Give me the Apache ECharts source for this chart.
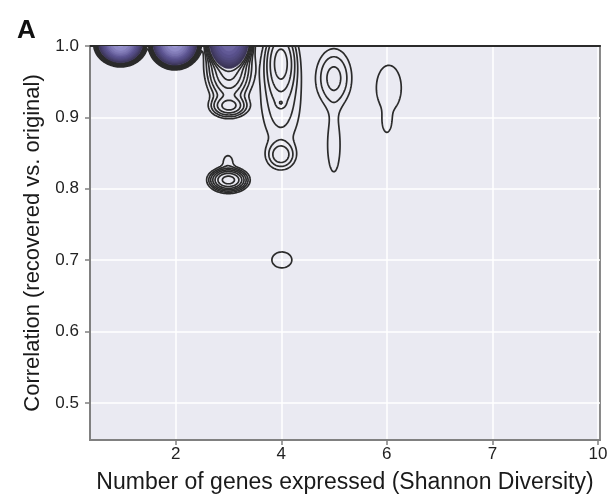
<!DOCTYPE html>
<html><head><meta charset="utf-8">
<script src="https://cdn.jsdelivr.net/npm/echarts@6/dist/echarts.min.js"></script>
<style>html,body{margin:0;padding:0;background:#fff}#chart{width:613px;height:500px}</style>
</head><body><div id="chart"></div>
<script>
// x ticks sit at these diversity values; the printed labels follow
const xTickValues = [2, 4, 6, 8, 10];
const xTickLabels = ['2', '4', '6', '7', '10'];
const yTickValues = [0.5, 0.6, 0.7, 0.8, 0.9, 1.0];

// density peaks of recovered-vs-original correlation per number of genes expressed
const peakGenes   = [0.955, 1.985, 3.008, 3.008, 3.008, 2.998, 2.99, 3.992, 3.992, 3.992, 3.992, 4.011, 4.996, 4.996, 6.038, 6.0];
const peakCorr    = [1.003, 1.003, 1.0084, 0.9734, 0.916, 0.8123, 0.8375, 0.9776, 0.9244, 0.920, 0.8473, 0.7003, 0.9552, 0.8613, 0.9412, 0.8908];
const peakSpreadG = [0.106, 0.106, 0.112, 0.189, 0.17, 0.152, 0.095, 0.152, 0.246, 0.047, 0.152, 0.195, 0.199, 0.114, 0.208, 0.076];
const peakSpreadR = [0.0067, 0.0076, 0.0113, 0.024, 0.0077, 0.007, 0.0098, 0.0252, 0.042, 0.0035, 0.011, 0.0115, 0.024, 0.0365, 0.028, 0.0126];
const peakWeight  = [1e5, 1e5, 12400, 25, 12, 40, 1.5, 12, 3, 2.5, 5, 1.6, 4.3, 1.7, 1.9, 1.3];

// iso-density levels; the upper ones are shaded
const contourLevels = [1, 2, 3.5, 6, 10, 17, 30, 50, 90, 160, 300, 600, 1200, 2500, 5000, 10000, 20000, 40000, 80000];
const firstShadedLevel = 7;

function density(g, r) {
  let s = 0;
  for (let k = 0; k < peakGenes.length; k++) {
    const a = (g - peakGenes[k]) / peakSpreadG[k];
    const b = (r - peakCorr[k]) / peakSpreadR[k];
    const e = 0.5 * (a * a + b * b);
    if (e < 40) s += peakWeight[k] * Math.exp(-e);
  }
  return s;
}

// evaluation lattice
const G0 = 0, G1 = 7.5, R0 = 0.6, R1 = 1.12;
const NX = 320, NY = 300;
const dG = (G1 - G0) / (NX - 1), dR = (R1 - R0) / (NY - 1);
const field = new Float64Array(NX * NY);
for (let j = 0; j < NY; j++) for (let i = 0; i < NX; i++) {
  const edge = i === 0 || j === 0 || i === NX - 1 || j === NY - 1;
  field[j * NX + i] = edge ? 0 : density(G0 + i * dG, R0 + j * dR);
}

// marching squares, segments chained into closed rings
function ringsAt(L) {
  const segA = [], segB = [];
  const pos = new Map();
  const V = (i, j) => field[j * NX + i];
  function edgeKey(kind, i, j) {
    const key = (j * NX + i) * 2 + kind;
    if (!pos.has(key)) {
      let g, r;
      if (kind === 0) { const a = V(i, j), b = V(i + 1, j); const t = (L - a) / (b - a); g = G0 + (i + t) * dG; r = R0 + j * dR; }
      else { const a = V(i, j), b = V(i, j + 1); const t = (L - a) / (b - a); g = G0 + i * dG; r = R0 + (j + t) * dR; }
      pos.set(key, [g, r]);
    }
    return key;
  }
  for (let j = 0; j < NY - 1; j++) for (let i = 0; i < NX - 1; i++) {
    const v0 = V(i, j), v1 = V(i + 1, j), v2 = V(i + 1, j + 1), v3 = V(i, j + 1);
    const c = (v0 >= L ? 1 : 0) | (v1 >= L ? 2 : 0) | (v2 >= L ? 4 : 0) | (v3 >= L ? 8 : 0);
    if (c === 0 || c === 15) continue;
    const e0 = () => edgeKey(0, i, j), e1 = () => edgeKey(1, i + 1, j), e2 = () => edgeKey(0, i, j + 1), e3 = () => edgeKey(1, i, j);
    const add = (a, b) => { segA.push(a()); segB.push(b()); };
    const mid = (v0 + v1 + v2 + v3) / 4 >= L;
    switch (c) {
      case 1: case 14: add(e3, e0); break;
      case 2: case 13: add(e0, e1); break;
      case 3: case 12: add(e3, e1); break;
      case 4: case 11: add(e1, e2); break;
      case 6: case 9: add(e0, e2); break;
      case 7: case 8: add(e3, e2); break;
      case 5: if (mid) { add(e0, e1); add(e2, e3); } else { add(e3, e0); add(e1, e2); } break;
      case 10: if (mid) { add(e3, e0); add(e1, e2); } else { add(e0, e1); add(e2, e3); } break;
    }
  }
  const byEdge = new Map();
  for (let s = 0; s < segA.length; s++) {
    for (const k of [segA[s], segB[s]]) { if (!byEdge.has(k)) byEdge.set(k, []); byEdge.get(k).push(s); }
  }
  const used = new Uint8Array(segA.length);
  const rings = [];
  for (let s = 0; s < segA.length; s++) {
    if (used[s]) continue;
    used[s] = 1;
    const start = segA[s];
    let cur = segB[s];
    const keys = [start, cur];
    let guard = 0;
    while (cur !== start && guard++ < 200000) {
      const list = byEdge.get(cur);
      let next = -1;
      for (const t of list) if (!used[t]) { next = t; break; }
      if (next < 0) break;
      used[next] = 1;
      cur = segA[next] === cur ? segB[next] : segA[next];
      keys.push(cur);
    }
    if (keys.length > 3) rings.push(keys.map(k => pos.get(k)));
  }
  return rings;
}

const rings = [];
contourLevels.forEach((L, li) => {
  ringsAt(L).forEach(pts => rings.push({ level: li, pts }));
});

// shading ramp for the upper levels
function mix(c1, c2, t) {
  const p = s => [1, 3, 5].map(o => parseInt(s.substr(o, 2), 16));
  const a = p(c1), b = p(c2);
  return 'rgb(' + a.map((x, k) => Math.round(x + (b[k] - x) * t)).join(',') + ')';
}
function shade(li) {
  const t = (li - firstShadedLevel) / (contourLevels.length - 1 - firstShadedLevel);
  return t < 0.5 ? mix('#3a3455', '#5b5390', t / 0.5) : mix('#5b5390', '#9c97d2', (t - 0.5) / 0.5);
}

const chart = echarts.init(document.getElementById('chart'), null, { renderer: 'canvas' });
const font = 'Liberation Sans, Arial, Helvetica, sans-serif';
chart.setOption({
  animation: false,
  backgroundColor: '#ffffff',
  title: { text: 'A', left: 12, top: 13, textStyle: { fontSize: 26, fontWeight: 'bold', color: '#111', fontFamily: font } },
  grid: { left: 90, right: 13, top: 46, bottom: 60, show: true, backgroundColor: '#eaeaf2', borderColor: '#8a8a8a', borderWidth: 2 },
  xAxis: [{
    type: 'value', min: 0.375, max: 10.04,
    name: 'Number of genes expressed (Shannon Diversity)', nameLocation: 'middle', nameGap: 31,
    nameTextStyle: { fontSize: 23, color: '#1a1a1a', fontFamily: font },
    axisLine: { show: true, onZero: false, lineStyle: { color: '#808080', width: 2 } },
    axisTick: { show: true, length: 5, customValues: xTickValues, lineStyle: { color: '#808080', width: 1.5 } },
    axisLabel: { customValues: xTickValues, margin: 6, fontSize: 17, color: '#222', fontFamily: font,
      formatter: v => xTickLabels[xTickValues.indexOf(v)] },
    splitLine: { show: true, lineStyle: { color: '#ffffff', width: 1.5 } }
  }, {
    type: 'value', position: 'top', min: 0.375, max: 10.04,
    axisLine: { show: true, onZero: false, lineStyle: { color: '#2a2a2a', width: 2 } },
    axisTick: { show: false }, axisLabel: { show: false }, splitLine: { show: false }
  }],
  yAxis: {
    type: 'value', min: 0.448, max: 1.0,
    name: 'Correlation (recovered vs. original)', nameLocation: 'middle', nameGap: 46,
    nameTextStyle: { fontSize: 22, color: '#1a1a1a', fontFamily: font },
    axisLine: { show: true, onZero: false, lineStyle: { color: '#808080', width: 2 } },
    axisTick: { show: true, length: 5, customValues: yTickValues, lineStyle: { color: '#808080', width: 1.5 } },
    axisLabel: { customValues: yTickValues, margin: 11, fontSize: 17, color: '#222', fontFamily: font,
      formatter: v => v.toFixed(1) },
    splitLine: { show: true, lineStyle: { color: '#ffffff', width: 1.5 } }
  },
  series: [{
    type: 'custom',
    clip: true,
    silent: true,
    data: rings.map((rg, k) => [rg.pts[0][0], rg.pts[0][1], k]),
    encode: { x: 0, y: 1 },
    renderItem: (params, api) => {
      const rg = rings[api.value(2)];
      const shaded = rg.level >= firstShadedLevel;
      return {
        type: 'polygon',
        z2: rg.level,
        shape: { points: rg.pts.map(p => api.coord(p)) },
        style: shaded
          ? { fill: shade(rg.level), stroke: shade(rg.level), lineWidth: 0.8 }
          : { fill: 'none', stroke: '#2b2b2b', lineWidth: 1.7 }
      };
    }
  }]
});
</script></body></html>
